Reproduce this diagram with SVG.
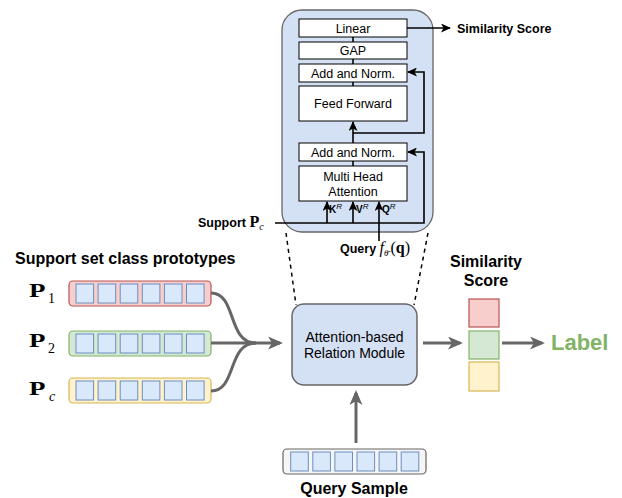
<svg xmlns="http://www.w3.org/2000/svg" width="622" height="498" viewBox="0 0 622 498">
<defs>
<style>
.sans{font-family:"Liberation Sans",Arial,sans-serif}
.serif{font-family:"Liberation Serif","Times New Roman",serif}
.b{font-weight:bold}
.inner{fill:#ffffff;stroke:#000000;stroke-width:1}
.cell{fill:#dae8fc;stroke:#6c8ebf;stroke-width:1}
.blk{fill:none;stroke:#000000;stroke-width:1.6}
.gray{fill:none;stroke:#666666;stroke-width:3}
.dash{fill:none;stroke:#000000;stroke-width:1.5;stroke-dasharray:4 4}
.t12{font-size:12.5px}
.bigP{font-family:"Liberation Serif","Times New Roman",serif;font-weight:bold;font-size:19px}
.sub{font-family:"Liberation Serif","Times New Roman",serif;font-size:14px}
</style>
<marker id="ab" markerUnits="userSpaceOnUse" markerWidth="10" markerHeight="9" refX="9" refY="4.5" orient="auto" viewBox="0 0 10 9">
<path d="M0,0 L10,4.5 L0,9 L2.5,4.5 Z" fill="#000000"/>
</marker>
<marker id="ag" markerUnits="userSpaceOnUse" markerWidth="15" markerHeight="13" refX="12" refY="6.5" orient="auto" viewBox="0 0 15 13">
<path d="M0,0 L15,6.5 L0,13 L4,6.5 Z" fill="#666666"/>
</marker>
<g id="cells6">
<rect class="cell" x="0" y="0" width="17.6" height="19"/>
<rect class="cell" x="22.1" y="0" width="17.6" height="19"/>
<rect class="cell" x="44.2" y="0" width="17.6" height="19"/>
<rect class="cell" x="66.3" y="0" width="17.6" height="19"/>
<rect class="cell" x="88.4" y="0" width="17.6" height="19"/>
<rect class="cell" x="110.5" y="0" width="17.6" height="19"/>
</g>
</defs>
<rect width="622" height="498" fill="#ffffff"/>

<g id="attention-block">
<rect x="282" y="10" width="151" height="222" rx="20" fill="#d4e1f5" stroke="#666666" stroke-width="1.3"/>
</g>
<g id="linear"><rect class="inner" x="299" y="19" width="108" height="18"/><text class="sans t12" x="353" y="32.5" text-anchor="middle">Linear</text></g>
<g id="gap"><rect class="inner" x="299" y="42" width="108" height="17"/><text class="sans t12" x="353" y="55" text-anchor="middle">GAP</text></g>
<g id="addnorm1"><rect class="inner" x="299" y="64" width="108" height="18"/><text class="sans t12" x="353" y="77.5" text-anchor="middle">Add and Norm.</text></g>
<g id="feedforward"><rect class="inner" x="299" y="86" width="108" height="35"/><text class="sans t12" x="353" y="108" text-anchor="middle">Feed Forward</text></g>
<g id="addnorm2"><rect class="inner" x="299" y="143" width="108" height="18"/><text class="sans t12" x="353" y="156.5" text-anchor="middle">Add and Norm.</text></g>
<g id="mha"><rect class="inner" x="299" y="166" width="108" height="35"/><text class="sans t12" x="353" y="180.5" text-anchor="middle">Multi Head</text><text class="sans t12" x="353" y="195.5" text-anchor="middle">Attention</text></g>

<g id="relation-module">
<rect x="292" y="304" width="125" height="81" rx="12" fill="#d4e1f5" stroke="#666666" stroke-width="1.5"/>
<text class="sans" font-size="14" x="354.5" y="342" text-anchor="middle">Attention-based</text>
<text class="sans" font-size="14" x="354.5" y="358" text-anchor="middle">Relation Module</text>
</g>

<g id="p1">
<rect x="69" y="281" width="142" height="25" rx="4" fill="#f8cecc" stroke="#b85450" stroke-width="1.2"/>
<use href="#cells6" x="76" y="284"/>
</g>
<g id="p2">
<rect x="69" y="331" width="142" height="25" rx="4" fill="#d5e8d4" stroke="#82b366" stroke-width="1.2"/>
<use href="#cells6" x="76" y="334"/>
</g>
<g id="pc">
<rect x="69" y="378" width="142" height="25" rx="4" fill="#fff2cc" stroke="#d6b656" stroke-width="1.2"/>
<use href="#cells6" x="76" y="381"/>
</g>
<g id="query-sample">
<rect x="283" y="449" width="143" height="25" rx="4" fill="#f5f5f5" stroke="#666666" stroke-width="1.2"/>
<use href="#cells6" x="290.7" y="452"/>
<text class="sans b" font-size="16" x="354" y="494" text-anchor="middle">Query Sample</text>
</g>

<g id="scores">
<rect x="469" y="299" width="30" height="28" fill="#f8cecc" stroke="#b85450" stroke-width="1.2"/>
<rect x="469" y="331" width="30" height="28" fill="#d5e8d4" stroke="#82b366" stroke-width="1.2"/>
<rect x="469" y="362" width="30" height="29" fill="#fff2cc" stroke="#d6b656" stroke-width="1.2"/>
<text class="sans b" font-size="16" x="486" y="267" text-anchor="middle">Similarity</text>
<text class="sans b" font-size="16" x="486" y="286" text-anchor="middle">Score</text>
</g>
<g id="label"><text class="sans b" font-size="22" x="551" y="350" fill="#82b366">Label</text></g>

<g id="labels">
<text class="sans b" font-size="16" x="15" y="264">Support set class prototypes</text>
<text class="bigP" transform="translate(29,297) scale(1.42,1)">P</text><text class="sub" x="48" y="303">1</text>
<text class="bigP" transform="translate(29,347) scale(1.42,1)">P</text><text class="sub" x="48" y="353">2</text>
<text class="bigP" transform="translate(29,395) scale(1.42,1)">P</text><text class="sub" font-style="italic" x="49" y="401">c</text>
<text class="sans b t12" x="457" y="33">Similarity Score</text>
<text x="198" y="227"><tspan class="sans b t12">Support </tspan><tspan class="serif b" font-size="16">P</tspan><tspan class="serif" font-style="italic" font-size="10" dy="3">c</tspan></text>
<text x="340" y="253"><tspan class="sans b t12">Query </tspan><tspan class="serif" font-style="italic" font-size="16">f</tspan><tspan class="serif" font-style="italic" font-size="9" dy="3">θ̄</tspan><tspan class="serif" font-size="16" dy="-3" dx="2">(</tspan><tspan class="serif b" font-size="16">q</tspan><tspan class="serif" font-size="16">)</tspan></text>
<text class="sans b" font-size="10" x="329" y="213">K<tspan font-weight="normal" font-style="italic" font-size="8" dy="-4">R</tspan></text>
<text class="sans b" font-size="10" x="356" y="213">V<tspan font-weight="normal" font-style="italic" font-size="8" dy="-4">R</tspan></text>
<text class="sans b" font-size="10" x="382" y="213">Q<tspan font-weight="normal" font-style="italic" font-size="8" dy="-4">R</tspan></text>
</g>

<g id="connectors">
<line class="blk" x1="353" y1="37" x2="353" y2="42"/>
<line class="blk" x1="353" y1="59" x2="353" y2="64"/>
<line class="blk" x1="353" y1="82" x2="353" y2="86"/>
<line class="blk" x1="353" y1="161" x2="353" y2="166"/>
<line class="blk" x1="353" y1="143" x2="353" y2="122" marker-end="url(#ab)"/>
<polyline class="blk" points="353,133 424,133 424,72 408,72" marker-end="url(#ab)"/>
<polyline class="blk" points="275,223 424,223 424,152 408,152" marker-end="url(#ab)"/>
<line class="blk" x1="327" y1="223" x2="327" y2="202" marker-end="url(#ab)"/>
<line class="blk" x1="353" y1="223" x2="353" y2="202" marker-end="url(#ab)"/>
<line class="blk" x1="379" y1="241" x2="379" y2="202" marker-end="url(#ab)"/>
<line class="blk" x1="407" y1="28" x2="450" y2="28" marker-end="url(#ab)"/>
<line class="dash" x1="286" y1="233" x2="296" y2="305"/>
<line class="dash" x1="428" y1="233" x2="414" y2="305"/>
<path class="gray" d="M211,293 C237,293 227,343 256,343"/>
<path class="gray" d="M211,391 C237,391 227,343 256,343"/>
<line class="gray" x1="211" y1="343" x2="280" y2="343" marker-end="url(#ag)"/>
<line class="gray" x1="423" y1="343" x2="460" y2="343" marker-end="url(#ag)"/>
<line class="gray" x1="502" y1="343" x2="542" y2="343" marker-end="url(#ag)"/>
<line class="gray" x1="356" y1="443" x2="356" y2="393" marker-end="url(#ag)"/>
</g>
</svg>
